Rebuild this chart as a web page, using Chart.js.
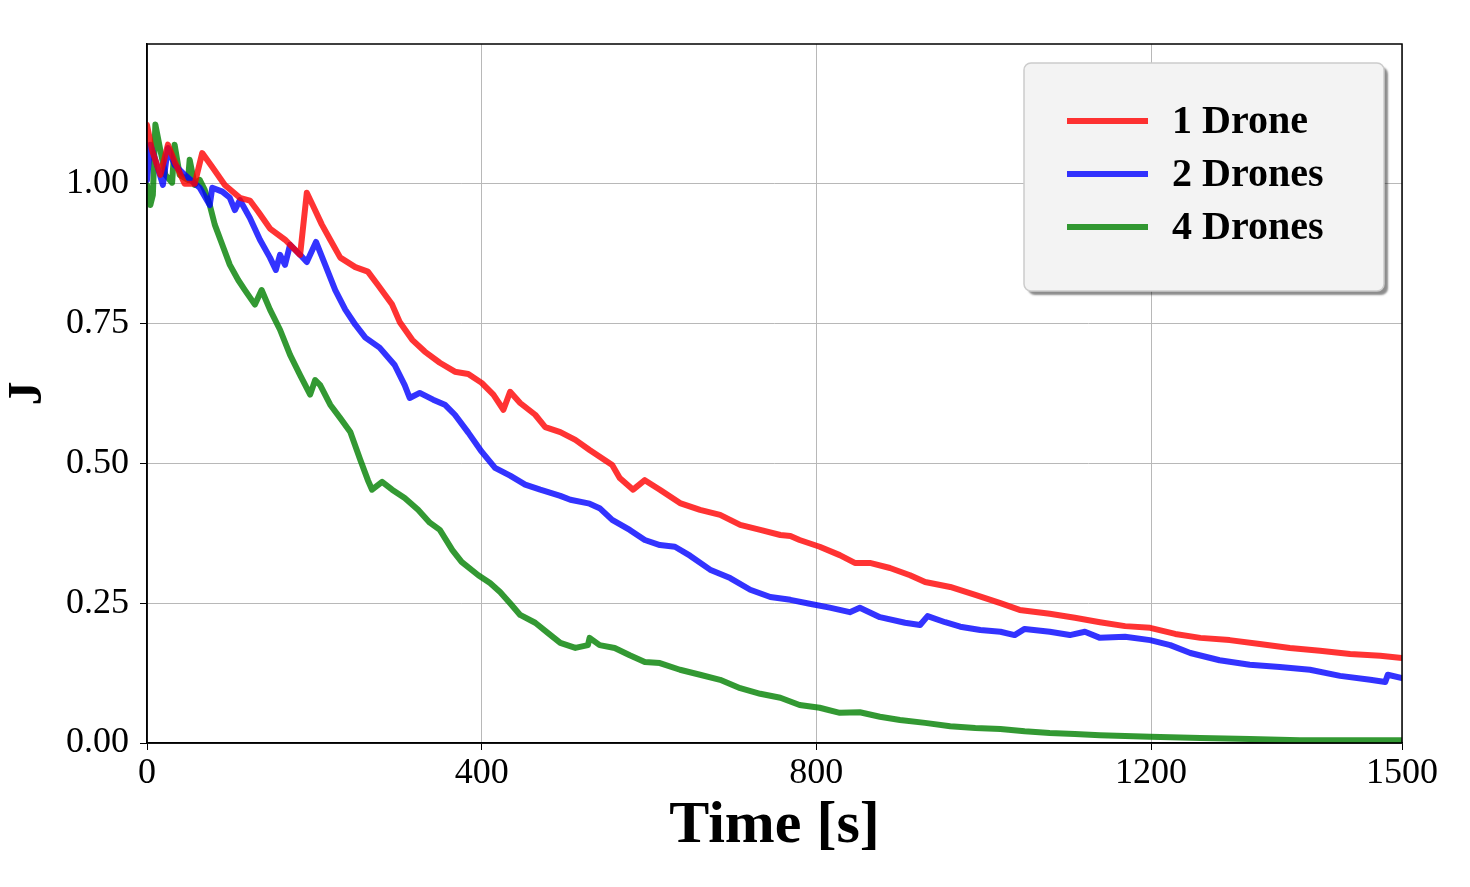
<!DOCTYPE html>
<html>
<head>
<meta charset="utf-8">
<script src="https://cdn.jsdelivr.net/npm/chart.js@4"></script>
<style>
  html, body { margin: 0; padding: 0; background: #fff; }
  #wrap { width: 1470px; height: 887px; }
</style>
</head>
<body>
<div id="wrap"><canvas id="myChart"></canvas></div>
<script>
// series (time in s, J)
var labels = ['1 Drone', '2 Drones', '4 Drones'];
var colors = ['rgba(255,0,0,0.8)', 'rgba(0,0,255,0.8)', 'rgba(0,128,0,0.8)'];

var t1 = [0, 6, 16, 25, 33, 45, 57, 66, 78, 93, 111, 123, 133, 147, 165, 183, 191, 198, 209, 219, 231, 249, 264, 276, 293, 302, 317, 332, 350, 368, 384, 400, 414, 426, 434, 446, 464, 476, 494, 512, 529, 547, 556, 565, 581, 595, 613, 637, 661, 685, 709, 733, 757, 769, 780, 804, 828, 846, 864, 888, 912, 930, 960, 990, 1020, 1043, 1079, 1109, 1139, 1169, 1199, 1229, 1259, 1294, 1330, 1366, 1402, 1438, 1474, 1500];
var j1 = [1.105, 1.06, 1.016, 1.07, 1.04, 1.0, 1.0, 1.055, 1.03, 0.998, 0.975, 0.97, 0.95, 0.92, 0.9, 0.873, 0.984, 0.962, 0.927, 0.9, 0.868, 0.851, 0.843, 0.819, 0.784, 0.753, 0.721, 0.7, 0.68, 0.664, 0.66, 0.644, 0.623, 0.596, 0.628, 0.608, 0.587, 0.565, 0.556, 0.542, 0.524, 0.506, 0.497, 0.474, 0.453, 0.47, 0.453, 0.429, 0.417, 0.408, 0.39, 0.381, 0.372, 0.37, 0.363, 0.351, 0.336, 0.322, 0.322, 0.313, 0.3, 0.288, 0.279, 0.265, 0.25, 0.238, 0.231, 0.224, 0.216, 0.209, 0.206, 0.195, 0.188, 0.184, 0.177, 0.17, 0.165, 0.159, 0.156, 0.152];

var t2 = [0, 4, 10, 19, 25, 33, 45, 63, 75, 78, 90, 99, 105, 111, 123, 135, 147, 154, 159, 165, 171, 183, 191, 202, 213, 225, 237, 249, 261, 278, 296, 308, 314, 326, 342, 356, 368, 384, 400, 416, 434, 452, 470, 494, 506, 529, 541, 556, 577, 595, 613, 631, 649, 673, 697, 721, 745, 769, 792, 816, 840, 852, 876, 906, 924, 933, 954, 972, 996, 1020, 1037, 1049, 1079, 1103, 1121, 1139, 1169, 1199, 1223, 1247, 1282, 1318, 1354, 1390, 1426, 1462, 1480, 1483, 1500];
var j2 = [1.007, 1.07, 1.043, 0.998, 1.064, 1.034, 1.016, 0.993, 0.962, 0.993, 0.986, 0.975, 0.953, 0.971, 0.939, 0.9, 0.868, 0.846, 0.873, 0.855, 0.891, 0.873, 0.86, 0.896, 0.855, 0.81, 0.775, 0.748, 0.725, 0.707, 0.676, 0.64, 0.617, 0.626, 0.614, 0.605, 0.587, 0.555, 0.521, 0.492, 0.478, 0.462, 0.453, 0.442, 0.435, 0.428, 0.42, 0.399, 0.381, 0.363, 0.354, 0.351, 0.335, 0.31, 0.295, 0.274, 0.261, 0.256, 0.249, 0.242, 0.234, 0.242, 0.225, 0.215, 0.211, 0.227, 0.216, 0.208, 0.202, 0.199, 0.193, 0.204, 0.199, 0.193, 0.199, 0.188, 0.19, 0.184, 0.175, 0.161, 0.148, 0.14, 0.136, 0.131, 0.12, 0.113, 0.109, 0.122, 0.116];

var t4 = [0, 4, 7, 10, 16, 22, 30, 33, 39, 49, 51, 57, 63, 69, 75, 81, 90, 99, 109, 117, 129, 137, 147, 159, 171, 183, 195, 201, 207, 219, 231, 243, 255, 264, 269, 281, 293, 308, 324, 338, 350, 365, 376, 396, 410, 422, 434, 446, 464, 479, 494, 512, 527, 529, 541, 559, 577, 595, 613, 637, 661, 685, 709, 733, 757, 780, 804, 828, 852, 876, 900, 930, 960, 990, 1020, 1049, 1079, 1109, 1139, 1199, 1259, 1318, 1378, 1500];
var j4 = [0.998, 0.962, 0.98, 1.106, 1.06, 1.016, 1.002, 1.07, 1.016, 1.007, 1.043, 0.998, 1.007, 0.989, 0.962, 0.927, 0.891, 0.855, 0.828, 0.81, 0.784, 0.81, 0.775, 0.739, 0.694, 0.658, 0.623, 0.649, 0.64, 0.605, 0.581, 0.556, 0.506, 0.47, 0.453, 0.467, 0.453, 0.438, 0.417, 0.394, 0.381, 0.345, 0.324, 0.3, 0.286, 0.27, 0.25, 0.229, 0.215, 0.197, 0.179, 0.17, 0.175, 0.188, 0.175, 0.17, 0.157, 0.145, 0.143, 0.131, 0.122, 0.113, 0.098, 0.088, 0.081, 0.068, 0.063, 0.054, 0.055, 0.047, 0.041, 0.036, 0.03, 0.027, 0.025, 0.021, 0.018, 0.016, 0.014, 0.011, 0.009, 0.007, 0.005, 0.005];

var xTicks = [0, 400, 800, 1200, 1500];
var yTicks = [0, 0.25, 0.5, 0.75, 1.0];

function pts(t, j) {
    return t.map((v, i) => ({ x: v, y: j[i] }));
}

var serif = "'Liberation Serif', 'DejaVu Serif', serif";

// frame on top/right + legend box drawn in the upper right corner
var framePlugin = {
    id: 'frame',
    afterDatasetsDraw(chart) {
        var a = chart.chartArea, ctx = chart.ctx;
        ctx.save();
        ctx.strokeStyle = '#000';
        ctx.lineWidth = 1.5;
        ctx.strokeRect(a.left, a.top, a.right - a.left, a.bottom - a.top);
        ctx.restore();
    },
    afterDraw(chart) {
        var ctx = chart.ctx;
        var bx = 1024, by = 63, bw = 360, bh = 228, r = 7;
        ctx.save();
        ctx.shadowColor = 'rgba(0,0,0,0.45)';
        ctx.shadowOffsetX = 4;
        ctx.shadowOffsetY = 4;
        ctx.shadowBlur = 2;
        ctx.beginPath();
        ctx.roundRect(bx, by, bw, bh, r);
        ctx.fillStyle = '#f3f3f3';
        ctx.fill();
        ctx.shadowColor = 'transparent';
        ctx.strokeStyle = '#cccccc';
        ctx.lineWidth = 1.5;
        ctx.stroke();
        ctx.font = "bold 40px " + serif;
        ctx.textBaseline = 'middle';
        chart.data.datasets.forEach((ds, i) => {
            var yy = 121 + i * 53;
            ctx.strokeStyle = ds.borderColor;
            ctx.lineWidth = 6;
            ctx.beginPath();
            ctx.moveTo(1067, yy);
            ctx.lineTo(1148, yy);
            ctx.stroke();
            ctx.fillStyle = '#000';
            ctx.fillText(ds.label, 1172, yy + 2);
        });
        ctx.restore();
    }
};

var ctx = document.getElementById('myChart');
var myChart = new Chart(ctx, {
    type: 'line',
    data: {
        datasets: [
            { label: labels[0], data: pts(t1, j1), borderColor: colors[0] },
            { label: labels[1], data: pts(t2, j2), borderColor: colors[1] },
            { label: labels[2], data: pts(t4, j4), borderColor: colors[2] },
        ],
    },
    options: {
        responsive: true,
        maintainAspectRatio: false,
        animation: false,
        layout: { padding: { left: 0, right: 68, top: 44, bottom: 0 } },
        elements: {
            line: { borderWidth: 6, tension: 0, borderJoinStyle: 'round', borderCapStyle: 'round' },
            point: { radius: 0 },
        },
        plugins: {
            legend: { display: false },
            tooltip: { enabled: false },
        },
        scales: {
            x: {
                type: 'linear',
                min: 0,
                max: 1500,
                afterBuildTicks: s => { s.ticks = xTicks.map(v => ({ value: v })); },
                afterFit: s => { s.height = 144; },
                grid: { color: '#b8b8b8', lineWidth: 1, tickLength: 7, tickColor: '#000' },
                border: { color: '#000', width: 1.5 },
                ticks: {
                    color: '#000',
                    font: { family: serif, size: 36 },
                    padding: 2,
                    maxRotation: 0,
                    callback: v => String(v),
                },
                title: {
                    display: true,
                    text: 'Time [s]',
                    color: '#000',
                    font: { family: serif, size: 60, weight: 'bold' },
                    padding: { top: 0, bottom: 25 },
                },
            },
            y: {
                type: 'linear',
                min: 0,
                max: 1.25,
                afterBuildTicks: s => { s.ticks = yTicks.map(v => ({ value: v })); },
                afterFit: s => { s.width = 147; },
                grid: { color: '#b8b8b8', lineWidth: 1, tickLength: 7, tickColor: '#000' },
                border: { color: '#000', width: 1.5 },
                ticks: {
                    color: '#000',
                    font: { family: serif, size: 36 },
                    padding: 11,
                    callback: v => v.toFixed(2),
                },
                title: {
                    display: true,
                    text: 'J',
                    color: '#000',
                    font: { family: serif, size: 48, weight: 'bold' },
                    padding: { top: 0, bottom: 4 },
                },
            },
        },
    },
    plugins: [framePlugin],
});
</script>
</body>
</html>
